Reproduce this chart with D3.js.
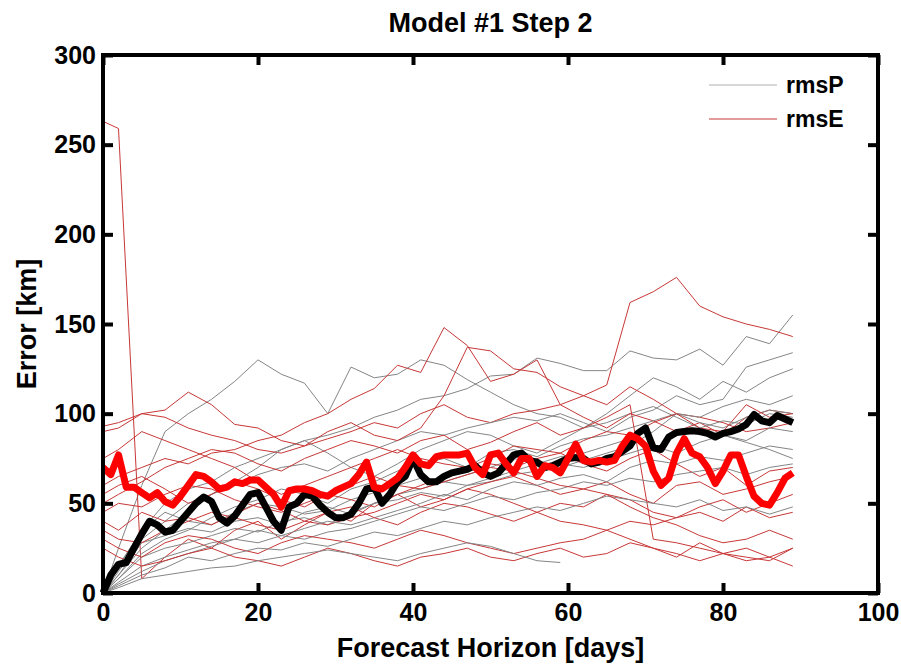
<!DOCTYPE html>
<html>
<head>
<meta charset="utf-8">
<script src="https://cdn.jsdelivr.net/npm/d3@7"></script>
<style>
  body { margin: 0; background: #fff; }
  text { font-family: "Liberation Sans", Arial, sans-serif; font-weight: bold; fill: #000; }
  .tick text { font-size: 25px; }
  .aText { font-size: 27px; }
</style>
</head>
<body>
<div id="chart"></div>
<script>
// Error vs forecast horizon, ensemble members (thin) and ensemble means (thick)
var svgWidth = 901;
var svgHeight = 668;
var margin = { top: 55, right: 23, bottom: 75, left: 103 };
var width = svgWidth - margin.left - margin.right;
var height = svgHeight - margin.top - margin.bottom;

var xTicks = [0, 20, 40, 60, 80, 100];
var yTicks = [0, 50, 100, 150, 200, 250, 300];

var thinDays = [0, 2, 5, 8, 11, 14, 17, 20, 23, 26, 29, 32, 35, 38, 41, 44, 47, 50, 53, 56, 59, 62, 65, 68, 71, 74, 77, 80, 83, 86, 89];

// rmsP members (gray)
var rmsP = [
  [0, 25, 60, 90, 100, 108, 118, 130, 122, 117, 100, 126, 120, 122, 130, 127, 119, 112, 105, 100, 98, 92, 95, 100, 104, 98, 92, 88, 84, 80, 75],
  [0, 15, 35, 50, 58, 62, 70, 75, 80, 85, 88, 92, 98, 102, 108, 110, 114, 121, 122, 131, 128, 124, 124, 135, 131, 130, 136, 127, 143, 139, 155],
  [0, 12, 30, 40, 50, 55, 60, 66, 70, 72, 68, 75, 80, 85, 90, 88, 92, 95, 98, 96, 100, 95, 90, 98, 102, 110, 105, 108, 126, 130, 134],
  [0, 10, 25, 35, 45, 55, 62, 70, 80, 85, 78, 70, 65, 72, 80, 85, 90, 88, 82, 78, 85, 92, 100, 110, 120, 115, 108, 118, 112, 120, 125],
  [0, 8, 22, 30, 35, 42, 48, 52, 58, 55, 50, 58, 62, 68, 72, 75, 70, 78, 80, 76, 82, 86, 88, 92, 96, 100, 98, 104, 108, 105, 110],
  [0, 15, 35, 45, 40, 38, 45, 50, 48, 44, 46, 52, 56, 60, 64, 62, 66, 70, 75, 72, 70, 74, 78, 82, 90, 100, 95, 92, 98, 102, 100],
  [0, 10, 28, 32, 36, 34, 40, 42, 38, 45, 48, 44, 50, 55, 58, 62, 60, 64, 68, 72, 76, 78, 82, 86, 80, 88, 92, 96, 94, 100, 98],
  [0, 8, 20, 25, 28, 32, 36, 34, 40, 42, 38, 45, 50, 52, 56, 54, 60, 62, 66, 68, 72, 70, 74, 78, 82, 78, 84, 88, 85, 92, 90],
  [0, 6, 15, 20, 24, 28, 30, 35, 32, 36, 40, 38, 42, 46, 50, 55, 52, 58, 62, 60, 64, 66, 62, 70, 74, 72, 76, 74, 78, 82, 80],
  [0, 5, 12, 18, 22, 26, 30, 28, 32, 30, 34, 36, 40, 44, 48, 46, 50, 54, 52, 56, 58, 62, 60, 64, 62, 66, 68, 70, 66, 70, 72],
  [0, 4, 10, 14, 20, 18, 22, 25, 24, 28, 26, 30, 34, 32, 36, 40, 38, 42, 45, 48, 46, 50, 54, 52, 50, 48, 52, 46, 48, 44, 48],
  [0, 3, 8, 10, 12, 14, 15, 18, 20, 22, 24, 22, 20, 18, 22, 25, 28, 26, 22, 18, 17, null, null, null, null, null, null, null, null, null, null]
];

// rmsE members (red)
var rmsE = [
  [263, 259, 8, 20, 30, 25, 35, 40, 30, 38, 45, 40, 50, 55, 48, 52, 58, 55, 50, 45, 40, 38, 35, 30, 25, 20, 28, 22, 18, 20, 15],
  [93, 95, 100, 98, 92, 88, 85, 80, 78, 82, 86, 90, 95, 92, 100, 105, 98, 95, 100, 102, 105, 110, 116, 162, 168, 176, 160, 154, 150, 147, 143],
  [60, 65, 70, 75, 72, 78, 80, 85, 88, 95, 100, 108, 114, 127, 123, 148, 138, 118, 122, 130, 105, 98, 92, 100, 96, 90, 95, 88, 98, 102, 100],
  [90, 92, 100, 102, 112, 105, 94, 92, 85, 82, 90, 95, 88, 85, 92, 110, 137, 135, 125, 123, 115, 110, 105, 115, 108, 100, 98, 95, 90, 92, 95],
  [50, 55, 62, 70, 75, 80, 78, 72, 68, 75, 80, 85, 82, 78, 85, 88, 80, 84, 90, 95, 88, 92, 98, 105, 30, 28, 25, 22, 20, 18, 25],
  [75, 80, 90, 85, 80, 75, 70, 62, 55, 60, 65, 70, 75, 80, 75, 72, 70, 75, 82, 80, 78, 85, 90, 88, 95, 100, 92, 90, 105, 98, 100],
  [45, 50, 48, 55, 60, 58, 52, 48, 45, 50, 55, 52, 48, 55, 60, 65, 68, 72, 70, 75, 78, 72, 68, 75, 80, 72, 65, 70, 60, 68, 70],
  [40, 35, 45, 40, 42, 38, 44, 50, 46, 40, 38, 42, 45, 50, 55, 52, 58, 62, 65, 60, 55, 58, 62, 55, 50, 60, 62, 55, 58, 62, 65],
  [35, 30, 28, 35, 40, 45, 42, 38, 35, 40, 45, 48, 42, 38, 45, 50, 48, 44, 40, 45, 50, 48, 55, 52, 45, 42, 48, 52, 45, 50, 55],
  [30, 25, 20, 28, 32, 30, 25, 22, 28, 32, 30, 28, 25, 30, 35, 32, 28, 25, 22, 25, 28, 30, 35, 40, 38, 42, 45, 40, 48, 42, 45],
  [25, 20, 15, 18, 22, 25, 20, 18, 15, 20, 25, 22, 18, 15, 20, 22, 25, 20, 18, 22, 25, 20, 22, 28, 25, 22, 18, 22, 25, 20, 25],
  [55, 60, 65, 58, 50, 55, 62, 58, 52, 48, 55, 60, 65, 60, 58, 62, 66, 70, 68, 64, 60, 58, 55, 48, 42, 38, 32, 28, 30, 35, 30]
];

// ensemble means, one value per day 0..89
var meanP = [
  0, 10, 16, 17, 25, 33, 40, 38, 34, 35,
  40, 45, 50, 53.5, 51, 42, 39, 43, 49, 55,
  56, 48, 40, 35, 48, 50, 55, 54, 49, 45,
  42, 42, 44, 50, 58, 59, 50, 55, 62, 65,
  75, 66, 62, 62, 65, 67, 68, 69, 71, 67,
  65, 67, 72, 77, 78, 74, 73, 70, 71, 73,
  75, 75.5, 75, 72, 73, 75, 76, 79, 82, 89,
  92, 81, 80, 87, 89.5, 90, 90.5, 90, 89, 87,
  89, 90, 91.5, 94, 99.5, 96, 95, 99, 97, 95
];
var meanE = [
  70, 66, 77, 59, 59, 56, 53, 56, 51, 49,
  54, 60, 66, 65, 62, 58, 59, 62, 61, 63,
  63, 59, 55, 48, 57, 58, 58, 57, 55, 54,
  57, 59, 61, 66, 73, 59, 58, 61, 64, 70,
  77, 72, 71, 76, 77, 77, 77, 78, 70, 66,
  77, 78, 72, 67, 75, 75, 65, 71, 70, 67,
  75, 83, 74, 73, 74, 73, 74, 82, 88, 86,
  82, 68, 60, 64, 78, 86, 78, 76, 70, 61,
  68, 77, 77, 65, 54, 50, 49, 56, 64, 67
];

var legendLabels = ["rmsP", "rmsE"];
var thinColors = ["#858585", "#c83737"];
var legendColors = ["#b0b0b0", "#c83737"];

var svg = d3.select("#chart")
    .append("svg")
    .attr("width", svgWidth)
    .attr("height", svgHeight);

var chart = svg.append("g")
    .attr("transform", `translate(${margin.left}, ${margin.top})`);

var xScale = d3.scaleLinear().domain([0, 100]).range([0, width]);
var yScale = d3.scaleLinear().domain([0, 300]).range([height, 0]);

// thin member curves, gray and red interleaved
var thinLine = d3.line()
    .defined(d => d[1] != null)
    .x(d => xScale(d[0]))
    .y(d => yScale(d[1]));

rmsP.forEach(function(series, i) {
    [rmsP[i], rmsE[i]].forEach(function(s, k) {
        chart.append("path")
            .datum(thinDays.map((day, j) => [day, s[j]]))
            .attr("fill", "none")
            .attr("stroke", thinColors[k])
            .attr("stroke-width", 1)
            .attr("d", thinLine);
    });
});

// thick mean curves
var meanLine = d3.line()
    .x((d, i) => xScale(i))
    .y(d => yScale(d));

chart.append("path")
    .datum(meanP)
    .attr("fill", "none")
    .attr("stroke", "#000")
    .attr("stroke-width", 7)
    .attr("stroke-linejoin", "round")
    .attr("d", meanLine);

chart.append("path")
    .datum(meanE)
    .attr("fill", "none")
    .attr("stroke", "#ff0000")
    .attr("stroke-width", 7)
    .attr("stroke-linejoin", "round")
    .attr("d", meanLine);

// axes with inward ticks on all four sides
var xAxis = d3.axisBottom(xScale).tickValues(xTicks).tickSize(-10).tickPadding(10);
var yAxis = d3.axisLeft(yScale).tickValues(yTicks).tickSize(-10).tickPadding(7);

var gx = chart.append("g")
    .attr("transform", `translate(0, ${height})`)
    .call(xAxis);
var gy = chart.append("g")
    .call(yAxis);
var gTop = chart.append("g")
    .call(d3.axisTop(xScale).tickValues(xTicks).tickSize(-10).tickFormat(""));
var gRight = chart.append("g")
    .attr("transform", `translate(${width}, 0)`)
    .call(d3.axisRight(yScale).tickValues(yTicks).tickSize(-10).tickFormat(""));

[gx, gy, gTop, gRight].forEach(function(g) {
    g.select(".domain").remove();
    g.selectAll(".tick line").attr("stroke", "#000").attr("stroke-width", 4);
});

chart.append("rect")
    .attr("width", width)
    .attr("height", height)
    .attr("fill", "none")
    .attr("stroke", "#000")
    .attr("stroke-width", 4);

// labels
svg.append("text")
    .attr("x", margin.left + width / 2)
    .attr("y", 32)
    .attr("text-anchor", "middle")
    .style("font-size", "27px")
    .text("Model #1 Step 2");

chart.append("text")
    .attr("class", "aText")
    .attr("transform", `translate(${width / 2}, ${height + 64})`)
    .attr("text-anchor", "middle")
    .text("Forecast Horizon [days]");

chart.append("text")
    .attr("class", "aText")
    .attr("transform", `translate(${-margin.left + 36}, ${height / 2}) rotate(-90)`)
    .attr("text-anchor", "middle")
    .text("Error [km]");

// legend
var legend = svg.append("g");
legendLabels.forEach(function(label, i) {
    var ly = 85 + i * 34;
    legend.append("line")
        .attr("x1", 709).attr("x2", 777)
        .attr("y1", ly).attr("y2", ly)
        .attr("stroke", legendColors[i])
        .attr("stroke-width", 1);
    legend.append("text")
        .attr("x", 786)
        .attr("y", ly)
        .attr("dy", "0.35em")
        .style("font-size", "23px")
        .text(label);
});
</script>
</body>
</html>
